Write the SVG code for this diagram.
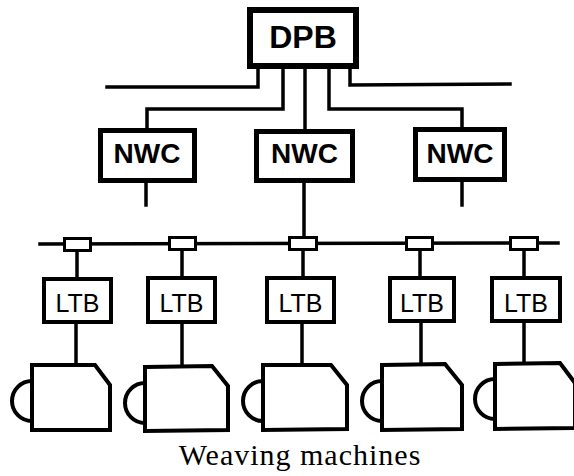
<svg xmlns="http://www.w3.org/2000/svg" width="574" height="476" viewBox="0 0 574 476">
  <style>
    .box { fill: #fff; stroke: #000; }
    .dpb { stroke-width: 6; }
    .nwc { stroke-width: 5; }
    .ltb { stroke-width: 4; }
    .tap { stroke-width: 3; }
    .wire { fill: none; stroke: #000; stroke-width: 3.5; stroke-linejoin: miter; stroke-linecap: square; }
    .mach { fill: #fff; stroke: #000; stroke-width: 4; stroke-linejoin: miter; }
    .ear { fill: none; stroke: #000; stroke-width: 4; }
    .lbl { font-family: "Liberation Sans", Arial, sans-serif; text-anchor: middle; fill: #000; }
    .bold { font-weight: bold; }
    .cap { font-family: "Liberation Serif", "Times New Roman", serif; font-size: 30px; letter-spacing: 1px; text-anchor: middle; fill: #000; }
  </style>
  <rect width="574" height="476" fill="#fff"/>

  <!-- wiring -->
  <g id="connectors">
    <!-- upper level buses out of DPB -->
    <polyline class="wire" points="107,87 258,87 258,69"/>
    <polyline class="wire" points="350,69 350,85 510,84"/>
    <polyline class="wire" points="283,69 283,109 147,109 147,128"/>
    <line class="wire" x1="305" y1="69" x2="305" y2="128"/>
    <polyline class="wire" points="329,69 329,109 462,109 462,127"/>
    <!-- stubs below NWC -->
    <line class="wire" x1="146" y1="183" x2="146" y2="205"/>
    <line class="wire" x1="462" y1="182" x2="462" y2="205"/>
    <line class="wire" x1="304" y1="183" x2="304" y2="237"/>
    <!-- field bus -->
    <line class="wire" x1="40" y1="244" x2="558" y2="243"/>
    <!-- tap to LTB -->
    <line class="wire" x1="77" y1="252" x2="77" y2="277"/>
    <line class="wire" x1="182" y1="252" x2="182" y2="276"/>
    <line class="wire" x1="303" y1="252" x2="303" y2="276"/>
    <line class="wire" x1="420" y1="252" x2="420" y2="276"/>
    <line class="wire" x1="524" y1="252" x2="524" y2="276"/>
    <!-- LTB to machine -->
    <line class="wire" x1="76" y1="324" x2="76" y2="365"/>
    <line class="wire" x1="182" y1="324" x2="182" y2="366"/>
    <line class="wire" x1="302" y1="324" x2="302" y2="365"/>
    <line class="wire" x1="421" y1="323" x2="421" y2="364"/>
    <line class="wire" x1="524" y1="323" x2="524" y2="363"/>
  </g>

  <g id="dpb">
    <rect class="box dpb" x="250" y="10" width="106" height="56"/>
    <text class="lbl bold" x="303" y="48" font-size="32">DPB</text>
  </g>

  <g id="nwc1">
    <rect class="box nwc" x="100.5" y="130.5" width="94" height="50"/>
    <text class="lbl bold" x="147" y="163" font-size="28">NWC</text>
  </g>
  <g id="nwc2">
    <rect class="box nwc" x="256.5" y="131.5" width="96" height="49"/>
    <text class="lbl bold" x="304.5" y="163" font-size="28">NWC</text>
  </g>
  <g id="nwc3">
    <rect class="box nwc" x="415.5" y="129.5" width="89" height="50"/>
    <text class="lbl bold" x="460" y="163" font-size="28">NWC</text>
  </g>

  <g id="tap1"><rect class="box tap" x="64.5" y="238.5" width="26" height="12"/></g>
  <g id="tap2"><rect class="box tap" x="169.5" y="237.5" width="26" height="12"/></g>
  <g id="tap3"><rect class="box tap" x="289.5" y="237.5" width="27" height="12"/></g>
  <g id="tap4"><rect class="box tap" x="406.5" y="237.5" width="26" height="12"/></g>
  <g id="tap5"><rect class="box tap" x="510.5" y="237.5" width="27" height="12"/></g>

  <g id="ltb1">
    <rect class="box ltb" x="44" y="279" width="67" height="43"/>
    <text class="lbl" x="77.5" y="312" font-size="25">LTB</text>
  </g>
  <g id="ltb2">
    <rect class="box ltb" x="148" y="278" width="67" height="44"/>
    <text class="lbl" x="181.5" y="312" font-size="25">LTB</text>
  </g>
  <g id="ltb3">
    <rect class="box ltb" x="267" y="278" width="67" height="44"/>
    <text class="lbl" x="300.5" y="312" font-size="25">LTB</text>
  </g>
  <g id="ltb4">
    <rect class="box ltb" x="390" y="278" width="64" height="43"/>
    <text class="lbl" x="422" y="312" font-size="25">LTB</text>
  </g>
  <g id="ltb5">
    <rect class="box ltb" x="492" y="278" width="68" height="43"/>
    <text class="lbl" x="526" y="312" font-size="25">LTB</text>
  </g>

  <!-- weaving machines: body with chamfered corner and a half-round on the left -->
  <g id="machine1">
    <path class="ear" d="M32,381 A20,20 0 0 0 32,421"/>
    <path class="mach" d="M32,365 L95,365 L110,385 L110,430 L32,430 Z"/>
  </g>
  <g id="machine2">
    <path class="ear" d="M145,383 A20,20 0 0 0 145,423"/>
    <path class="mach" d="M145,367 L212,366 L228,386 L228,430 L145,431 Z"/>
  </g>
  <g id="machine3">
    <path class="ear" d="M263,381 A20,20 0 0 0 263,421"/>
    <path class="mach" d="M263,365 L331,365 L347,385 L347,429 L263,430 Z"/>
  </g>
  <g id="machine4">
    <path class="ear" d="M382,381 A20,20 0 0 0 382,421"/>
    <path class="mach" d="M382,365 L445,364 L462,385 L462,429 L382,430 Z"/>
  </g>
  <g id="machine5">
    <path class="ear" d="M495,379 A20,20 0 0 0 495,419"/>
    <path class="mach" d="M495,364 L560,363 L575,383 L575,428 L495,429 Z"/>
  </g>

  <text class="cap" x="300" y="465">Weaving machines</text>
</svg>
